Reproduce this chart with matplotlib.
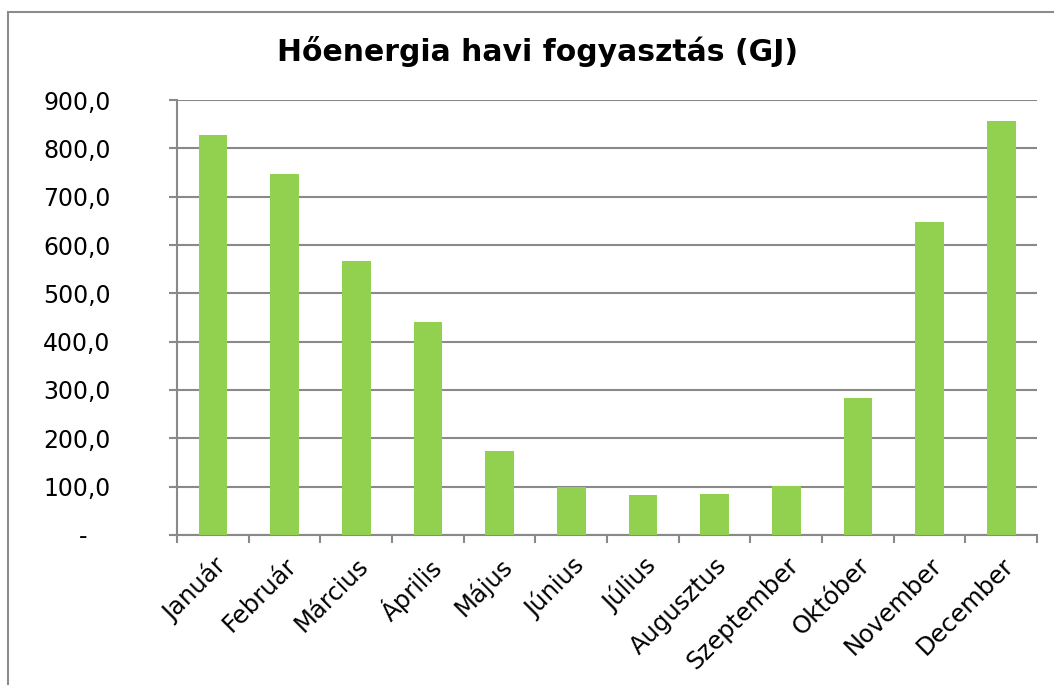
import matplotlib.pyplot as plt
import matplotlib.patches as patches
import numpy as np

# Monthly heat energy consumption (GJ)
months = ["Január", "Február", "Március", "Április", "Május", "Június",
          "Július", "Augusztus", "Szeptember", "Október", "November", "December"]
consumption = [827, 746, 566, 440, 174, 100, 83, 85, 102, 284, 647, 856]
y_ticks = [0, 100, 200, 300, 400, 500, 600, 700, 800, 900]

bar_color = "#92D050"
grid_color = "#898989"

fig = plt.figure(figsize=(10.54, 6.85), dpi=100)
ax = fig.add_axes([0.168, 0.219, 0.816, 0.635])

x = np.arange(len(months))
ax.bar(x, consumption, width=0.4, color=bar_color, zorder=3)

ax.set_xlim(-0.5, len(months) - 0.5)
ax.set_ylim(0, 900)

# y axis: gridlines + tick labels in Hungarian number format
ax.set_yticks(y_ticks)
ax.set_yticklabels(["-   " if v == 0 else f"{v:.1f}".replace(".", ",") for v in y_ticks])
ax.yaxis.grid(True, color=grid_color, linewidth=1.5, zorder=0)
ax.tick_params(axis="y", length=6, width=1.5, color=grid_color, pad=42,
               labelsize=17)

# x axis: ticks at category boundaries, labels at centres
ax.set_xticks(x)
ax.set_xticklabels(months, rotation=45, ha="right", rotation_mode="anchor",
                   fontsize=17.5)
ax.set_xticks(np.arange(-0.5, len(months)), minor=True)
ax.tick_params(axis="x", which="major", length=0, pad=13)
ax.tick_params(axis="x", which="minor", length=6, width=1.5, color=grid_color)

for side in ["top", "right"]:
    ax.spines[side].set_visible(False)
for side in ["left", "bottom"]:
    ax.spines[side].set_color(grid_color)
    ax.spines[side].set_linewidth(1.5)

fig.text(0.51, 0.925, "Hőenergia havi fogyasztás (GJ)", ha="center", va="center",
         fontsize=21.5, fontweight="bold")

# chart area border (cut off on the right and bottom)
border = patches.Rectangle((7.5 / 1054, -0.05), 1.1, (685 - 11.5) / 685 + 0.05,
                           transform=fig.transFigure, fill=False,
                           edgecolor="#8c8c8c", linewidth=1.5, clip_on=False)
fig.patches.append(border)

fig.savefig("out.png", dpi=100)
